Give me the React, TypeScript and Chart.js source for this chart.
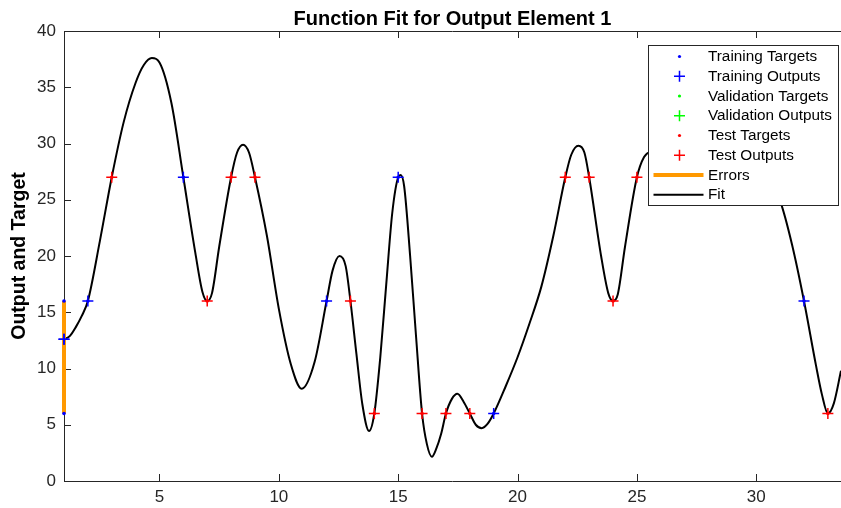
import React, { useEffect, useRef } from 'react';
import { Chart, registerables } from 'chart.js';

Chart.register(...registerables);

// ---- data ----
const trainX = [1, 1, 2, 6, 12, 15, 19, 32];
const trainTargets = [16, 6, 16, 27, 16, 27, 6, 16];
const trainOutputs = [12.6, 12.6, 16, 27, 16, 27, 6, 16];

const valX: number[] = [];
const valTargets: number[] = [];
const valOutputs: number[] = [];

const testX = [3, 7, 8, 9, 13, 14, 16, 17, 18, 22, 23, 24, 25, 33];
const testTargets = [27, 16, 27, 27, 16, 6, 6, 6, 6, 27, 27, 16, 27, 6];
const testOutputs = [27, 16, 27, 27, 16, 6, 6, 6, 6, 27, 27, 16, 27, 6];

const fitX = [
  1, 1.25, 1.5, 1.75, 2, 2.5, 3, 3.5, 4, 4.35, 4.68, 5, 5.5, 6, 6.5, 6.8, 7, 7.2, 7.5, 8,
  8.25, 8.5, 8.75, 9, 9.5, 10, 10.5, 10.96, 11.5, 12, 12.25, 12.54, 12.8, 13, 13.25, 13.5,
  13.78, 14, 14.25, 14.5, 14.75, 15, 15.1, 15.25, 15.5, 15.75, 16, 16.2, 16.41, 16.6, 16.8,
  17, 17.25, 17.48, 17.75, 18, 18.25, 18.5, 18.75, 19, 19.5, 20, 20.5, 21, 21.5, 22, 22.25,
  22.55, 22.8, 23, 23.5, 23.8, 24, 24.2, 24.5, 25, 25.3, 25.6, 26, 27, 28, 29, 30, 30.5, 31,
  31.5, 32, 32.5, 32.75, 33, 33.25, 33.55,
];
const fitY = [
  12.6, 12.9, 13.7, 14.7, 16.0, 21.3, 27.0, 31.9, 35.4, 37.0, 37.6, 37.2, 33.6, 27.0, 20.3,
  16.8, 16.0, 16.7, 20.8, 27.0, 29.2, 29.9, 29.2, 27.0, 21.8, 15.3, 10.4, 8.2, 10.6, 16.0,
  18.7, 20.0, 19.1, 16.0, 11.3, 6.8, 4.45, 6.0, 11.0, 17.5, 23.8, 27.0, 27.2, 26.2, 20.0,
  12.8, 6.0, 3.3, 2.16, 2.9, 4.2, 6.0, 7.3, 7.75, 7.0, 6.0, 5.0, 4.7, 5.1, 6.0, 8.4, 11.0,
  14.0, 17.3, 21.8, 27.0, 29.0, 29.8, 29.2, 27.0, 20.0, 16.7, 16.0, 16.6, 20.8, 27.0, 28.8,
  29.3, 29.4, 28.4, 27.8, 28.4, 28.2, 27.0, 24.9, 21.0, 16.0, 10.3, 7.7, 6.0, 6.9, 9.8,
];

const xTicks = [5, 10, 15, 20, 25, 30];
const yTicks = [0, 5, 10, 15, 20, 25, 30, 35, 40];

const titleText = 'Function Fit for Output Element 1';
const yTitleText = 'Output and Target';

const FONT = "'Liberation Sans', Arial, Helvetica, sans-serif";
const AXIS_COLOR = '#262626';

const pts = (xs: number[], ys: number[]) => xs.map((x, i) => ({ x, y: ys[i] }));

function errorSegments() {
  const out: { x: number; y: number | null }[] = [];
  const add = (xs: number[], t: number[], o: number[]) => {
    xs.forEach((x, i) => {
      out.push({ x, y: t[i] });
      out.push({ x, y: o[i] });
      out.push({ x, y: null });
    });
  };
  add(trainX, trainTargets, trainOutputs);
  add(valX, valTargets, valOutputs);
  add(testX, testTargets, testOutputs);
  return out;
}

const axesPlugin = {
  id: 'matlabAxes',
  beforeDatasetsDraw(chart: any) {
    const { ctx, chartArea } = chart;
    const { left, right, top, bottom } = chartArea;
    const xs = chart.scales.x;
    const ys = chart.scales.y;
    const tl = 7;
    ctx.save();
    ctx.strokeStyle = AXIS_COLOR;
    ctx.lineWidth = 1;
    ctx.beginPath();
    ctx.moveTo(left + 0.5, top + 0.5);
    ctx.lineTo(left + 0.5, bottom + 0.5);
    ctx.moveTo(left, bottom + 0.5);
    ctx.lineTo(right, bottom + 0.5);
    ctx.moveTo(left, top + 0.5);
    ctx.lineTo(right, top + 0.5);
    xTicks.forEach((v) => {
      const px = Math.round(xs.getPixelForValue(v)) + 0.5;
      ctx.moveTo(px, bottom);
      ctx.lineTo(px, bottom - tl);
      ctx.moveTo(px, top);
      ctx.lineTo(px, top + tl);
    });
    yTicks.forEach((v) => {
      const py = Math.round(ys.getPixelForValue(v)) + 0.5;
      ctx.moveTo(left, py);
      ctx.lineTo(left + tl, py);
    });
    ctx.stroke();
    ctx.restore();
  },
};

const legendPlugin = {
  id: 'matlabLegend',
  afterDatasetsDraw(chart: any) {
    const { ctx, chartArea } = chart;
    const w = 190;
    const h = 160;
    const x0 = Math.round(chartArea.right - 193) + 0.5;
    const y0 = Math.round(chartArea.top + 14) + 0.5;
    ctx.save();
    ctx.fillStyle = '#ffffff';
    ctx.fillRect(x0, y0, w, h);
    ctx.strokeStyle = AXIS_COLOR;
    ctx.lineWidth = 1;
    ctx.strokeRect(x0, y0, w, h);
    ctx.font = `15.3px ${FONT}`;
    ctx.textBaseline = 'middle';
    ctx.textAlign = 'left';
    const rowH = 19.75;
    chart.data.datasets.forEach((ds: any, i: number) => {
      const cy = y0 + 11 + i * rowH;
      const mx = x0 + 31;
      if (ds.legendKind === 'line') {
        ctx.strokeStyle = ds.borderColor;
        ctx.lineWidth = ds.borderWidth;
        ctx.beginPath();
        ctx.moveTo(x0 + 5, cy);
        ctx.lineTo(x0 + 55, cy);
        ctx.stroke();
      } else if (ds.legendKind === 'dot') {
        ctx.fillStyle = ds.backgroundColor;
        ctx.beginPath();
        ctx.arc(mx, cy, 1.6, 0, Math.PI * 2);
        ctx.fill();
      } else {
        ctx.strokeStyle = ds.borderColor;
        ctx.lineWidth = 1.5;
        ctx.beginPath();
        ctx.moveTo(mx - 5.5, cy);
        ctx.lineTo(mx + 5.5, cy);
        ctx.moveTo(mx, cy - 5.5);
        ctx.lineTo(mx, cy + 5.5);
        ctx.stroke();
      }
      ctx.fillStyle = '#000000';
      ctx.fillText(ds.label, x0 + 59.5, cy + 0.5);
    });
    ctx.restore();
  },
};

const titlePlugin = {
  id: 'matlabTitle',
  afterDraw(chart: any) {
    const { ctx, chartArea } = chart;
    ctx.save();
    ctx.font = `bold 20px ${FONT}`;
    ctx.fillStyle = '#000000';
    ctx.textAlign = 'center';
    ctx.textBaseline = 'alphabetic';
    ctx.fillText(titleText, (chartArea.left + chartArea.right) / 2, 25);
    ctx.restore();
  },
};

export default function App() {
  const canvasRef = useRef<HTMLCanvasElement | null>(null);

  useEffect(() => {
    if (!canvasRef.current) return;
    const dot = (label: string, color: string, xs: number[], ys: number[]) => ({
      label,
      legendKind: 'dot',
      data: pts(xs, ys),
      showLine: false,
      pointStyle: 'circle',
      pointRadius: 1.8,
      pointBorderWidth: 0,
      backgroundColor: color,
      borderColor: color,
      pointBackgroundColor: color,
      clip: 10,
    });
    const plus = (label: string, color: string, xs: number[], ys: number[]) => ({
      label,
      legendKind: 'plus',
      data: pts(xs, ys),
      showLine: false,
      pointStyle: 'cross',
      pointRadius: 5.5,
      pointBorderWidth: 1.5,
      borderColor: color,
      pointBorderColor: color,
      backgroundColor: color,
      clip: 10,
    });

    const chart = new Chart(canvasRef.current, {
      type: 'scatter',
      data: {
        datasets: [
          dot('Training Targets', '#0000ff', trainX, trainTargets),
          plus('Training Outputs', '#0000ff', trainX, trainOutputs),
          dot('Validation Targets', '#00ff00', valX, valTargets),
          plus('Validation Outputs', '#00ff00', valX, valOutputs),
          dot('Test Targets', '#ff0000', testX, testTargets),
          plus('Test Outputs', '#ff0000', testX, testOutputs),
          {
            label: 'Errors',
            legendKind: 'line',
            data: errorSegments(),
            showLine: true,
            spanGaps: false,
            borderColor: '#ff9900',
            backgroundColor: '#ff9900',
            borderWidth: 4,
            pointRadius: 0,
            clip: 10,
          },
          {
            label: 'Fit',
            legendKind: 'line',
            data: pts(fitX, fitY),
            showLine: true,
            borderColor: '#000000',
            backgroundColor: '#000000',
            borderWidth: 2,
            pointRadius: 0,
            cubicInterpolationMode: 'monotone',
          },
        ] as any,
      },
      options: {
        animation: false,
        responsive: false,
        devicePixelRatio: 1,
        events: [],
        layout: { autoPadding: false, padding: { top: 31, right: 0, bottom: 0, left: 0 } },
        plugins: {
          legend: { display: false },
          title: { display: false },
          tooltip: { enabled: false },
        },
        scales: {
          x: {
            type: 'linear',
            min: 1,
            max: 33.55,
            grid: { display: false, drawTicks: false },
            border: { display: false },
            afterBuildTicks: (s: any) => {
              s.ticks = xTicks.map((v) => ({ value: v }));
            },
            afterFit: (s: any) => {
              s.height = 27;
              s.paddingLeft = 0;
              s.paddingRight = 0;
            },
            ticks: {
              padding: 6,
              color: AXIS_COLOR,
              font: { size: 17, family: FONT },
              maxRotation: 0,
              autoSkip: false,
            },
          },
          y: {
            type: 'linear',
            min: 0,
            max: 40,
            grid: { display: false, drawTicks: false },
            border: { display: false },
            afterBuildTicks: (s: any) => {
              s.ticks = yTicks.map((v) => ({ value: v }));
            },
            afterFit: (s: any) => {
              s.width = 64;
              s.paddingTop = 0;
              s.paddingBottom = 0;
            },
            ticks: {
              padding: 8,
              color: AXIS_COLOR,
              font: { size: 17, family: FONT },
              autoSkip: false,
            },
            title: {
              display: true,
              text: yTitleText,
              color: '#000000',
              font: { size: 19.5, weight: 'bold', family: FONT },
              padding: { top: 8, bottom: 0 },
            },
          },
        },
      } as any,
      plugins: [axesPlugin, legendPlugin, titlePlugin],
    });
    return () => chart.destroy();
  }, []);

  return (
    <div style={{ position: 'absolute', left: 0, top: 0, width: 841, height: 508, background: '#fff' }}>
      <canvas ref={canvasRef} width={841} height={508} style={{ display: 'block' }} />
    </div>
  );
}
